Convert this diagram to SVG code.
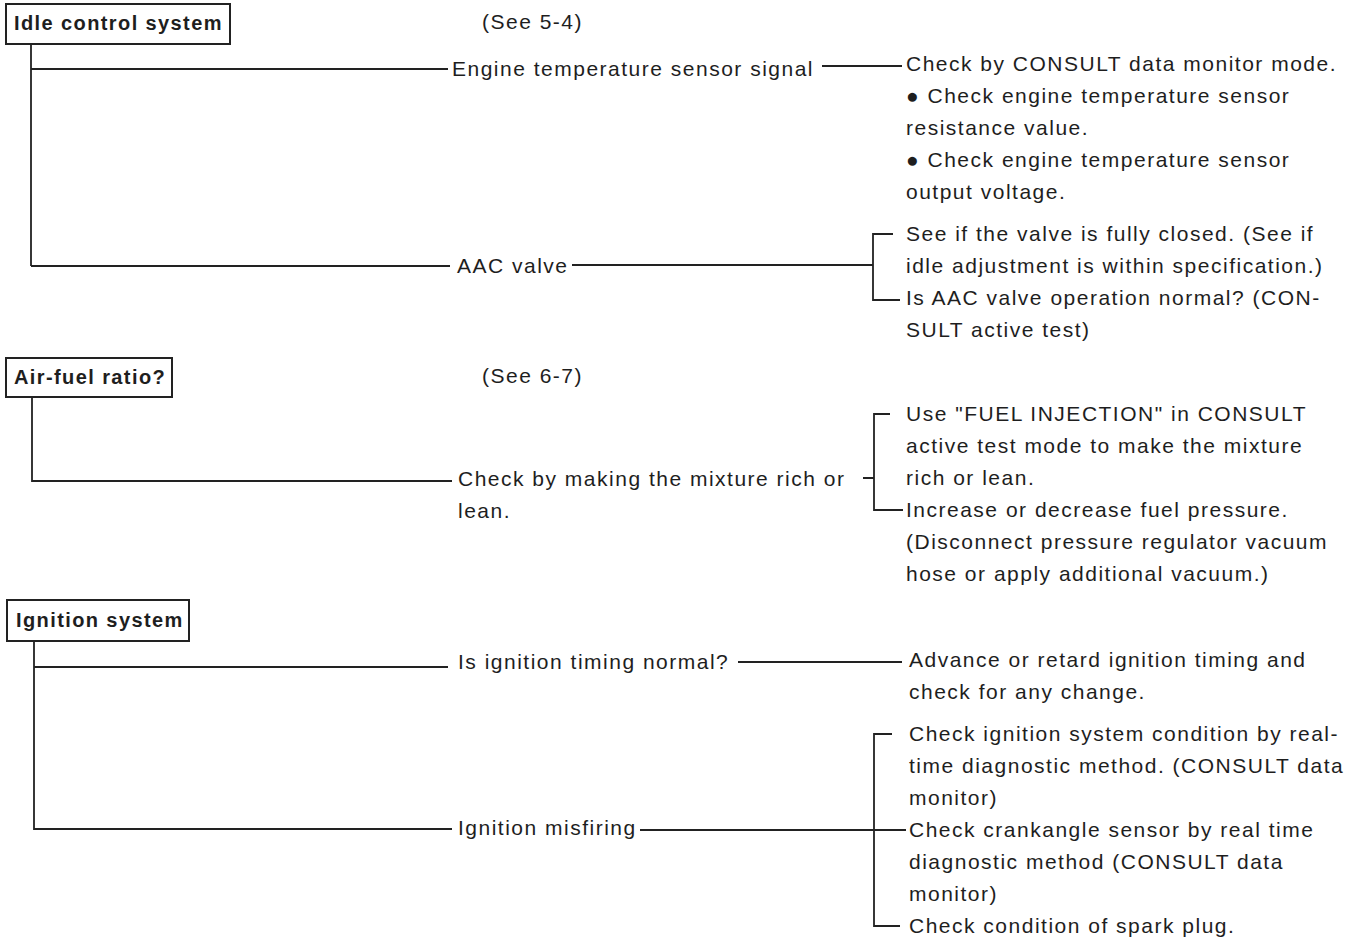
<svg xmlns="http://www.w3.org/2000/svg" width="1353" height="939" viewBox="0 0 1353 939">
<style>
.t{font-family:"Liberation Sans",Arial,sans-serif;font-size:21px;letter-spacing:1.5px;fill:#1e1e1e}
.h{font-family:"Liberation Sans",Arial,sans-serif;font-size:20px;font-weight:bold;letter-spacing:1.4px;fill:#1e1e1e}
.box{fill:#fff;stroke:#222;stroke-width:2}
.c{fill:none;stroke:#222;stroke-width:1.8}
</style>
<rect width="1353" height="939" fill="#fff"/>
<g id="connectors">
<path class="c" d="M31 44V266M31 69H448M822 66H902M31 266H450M572 265H873M893 234H873V300H900"/>
<path class="c" d="M32 397V481H452M863 478H874M890 414H874V510H903"/>
<path class="c" d="M34 641V829H452M34 667H448M738 662H902M640 830H906M892 734H874V926H900"/>
</g>
<g id="idle">
<rect class="box" x="6" y="4" width="224" height="40"/>
<text class="h" x="14" y="30">Idle control system</text>
<text class="t" x="482" y="29">(See 5-4)</text>
</g>
<g id="engine-temp">
<text class="t" x="452" y="76">Engine temperature sensor signal</text>
</g>
<g id="engine-temp-check">
<text class="t" x="906" y="71">Check by CONSULT data monitor mode.</text>
<text class="t" x="906" y="103">● Check engine temperature sensor</text>
<text class="t" x="906" y="135">resistance value.</text>
<text class="t" x="906" y="167">● Check engine temperature sensor</text>
<text class="t" x="906" y="199">output voltage.</text>
</g>
<g id="aac">
<text class="t" x="457" y="273">AAC valve</text>
</g>
<g id="aac-check">
<text class="t" x="906" y="241">See if the valve is fully closed. (See if</text>
<text class="t" x="906" y="273">idle adjustment is within specification.)</text>
<text class="t" x="906" y="305">Is AAC valve operation normal? (CON-</text>
<text class="t" x="906" y="337">SULT active test)</text>
</g>
<g id="airfuel">
<rect class="box" x="6" y="358" width="166" height="39"/>
<text class="h" x="14" y="384">Air-fuel ratio?</text>
<text class="t" x="482" y="383">(See 6-7)</text>
</g>
<g id="mixture">
<text class="t" x="458" y="486">Check by making the mixture rich or</text>
<text class="t" x="458" y="518">lean.</text>
</g>
<g id="mixture-check">
<text class="t" x="906" y="421">Use "FUEL INJECTION" in CONSULT</text>
<text class="t" x="906" y="453">active test mode to make the mixture</text>
<text class="t" x="906" y="485">rich or lean.</text>
<text class="t" x="906" y="517">Increase or decrease fuel pressure.</text>
<text class="t" x="906" y="549">(Disconnect pressure regulator vacuum</text>
<text class="t" x="906" y="581">hose or apply additional vacuum.)</text>
</g>
<g id="ignition">
<rect class="box" x="7" y="600" width="182" height="41"/>
<text class="h" x="16" y="627">Ignition system</text>
</g>
<g id="timing">
<text class="t" x="458" y="669">Is ignition timing normal?</text>
</g>
<g id="timing-check">
<text class="t" x="909" y="667">Advance or retard ignition timing and</text>
<text class="t" x="909" y="699">check for any change.</text>
</g>
<g id="misfiring">
<text class="t" x="458" y="835">Ignition misfiring</text>
</g>
<g id="misfiring-check">
<text class="t" x="909" y="741">Check ignition system condition by real-</text>
<text class="t" x="909" y="773">time diagnostic method. (CONSULT data</text>
<text class="t" x="909" y="805">monitor)</text>
<text class="t" x="909" y="837">Check crankangle sensor by real time</text>
<text class="t" x="909" y="869">diagnostic method (CONSULT data</text>
<text class="t" x="909" y="901">monitor)</text>
<text class="t" x="909" y="933">Check condition of spark plug.</text>
</g>
</svg>
